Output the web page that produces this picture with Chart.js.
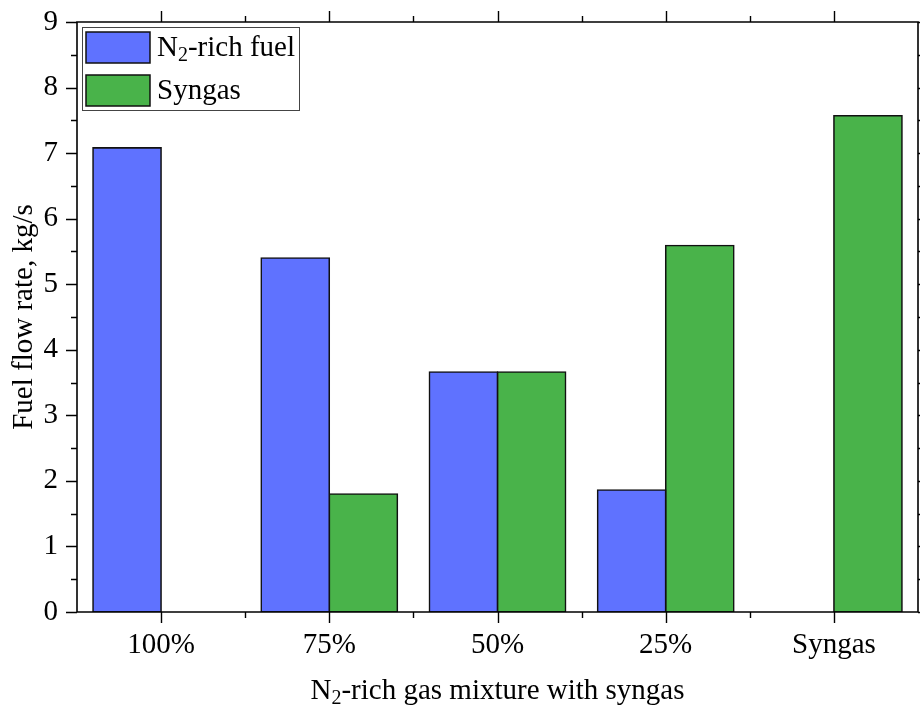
<!DOCTYPE html>
<html><head><meta charset="utf-8">
<script src="https://cdn.jsdelivr.net/npm/chart.js@4"></script>
<style>html,body{margin:0;padding:0;background:#fff;}</style>
</head><body>
<canvas id="c" width="920" height="711"></canvas>
<script>
const categories = ['100%', '75%', '50%', '25%', 'Syngas'];
const n2RichFuel = [7.08, 5.40, 3.66, 1.86, null];
const syngasFuel = [null, 1.80, 3.66, 5.59, 7.57];
const seriesLabels = ['N2-rich fuel', 'Syngas'];
const yMin = 0, yMax = 9, yStep = 1;

const FONT = "'Liberation Serif', 'Times New Roman', serif";
const FS = 29;
const BLUE = '#5F72FF';
const GREEN = '#49B34A';

function drawRich(ctx, parts, x, y, size, align) {
  const subSize = Math.round(size * 0.68);
  let w = 0;
  parts.forEach(p => {
    ctx.font = (p.sub ? subSize : size) + 'px ' + FONT;
    p.w = ctx.measureText(p.t).width;
    w += p.w;
  });
  let cx = align === 'center' ? x - w / 2 : x;
  ctx.textAlign = 'left';
  ctx.textBaseline = 'middle';
  parts.forEach(p => {
    ctx.font = (p.sub ? subSize : size) + 'px ' + FONT;
    ctx.fillText(p.t, cx, p.sub ? y + size * 0.28 : y);
    cx += p.w;
  });
}
function richParts(label) {
  if (label.startsWith('N2')) return [{t: 'N'}, {t: '2', sub: true}, {t: label.slice(2)}];
  return [{t: label}];
}

const framePlugin = {
  id: 'frame',
  afterDatasetsDraw(chart) {
    const ctx = chart.ctx;
    const a = chart.chartArea;
    const xs = chart.scales.x, ys = chart.scales.y;
    ctx.save();
    ctx.strokeStyle = '#000';
    ctx.lineWidth = 1.6;
    ctx.beginPath();
    ctx.rect(a.left, a.top, a.right - a.left, a.bottom - a.top);
    ctx.stroke();
    ctx.lineWidth = 1.4;
    ctx.beginPath();
    for (let v = yMin; v <= yMax + 1e-9; v += yStep / 2) {
      const py = Math.round(ys.getPixelForValue(v)) + 0.5;
      const major = Math.abs(v - Math.round(v)) < 1e-9;
      const len = major ? 11 : 6;
      ctx.moveTo(a.left, py); ctx.lineTo(a.left - len, py);
      ctx.moveTo(a.right, py); ctx.lineTo(a.right + len, py);
    }
    const n = categories.length;
    for (let i = 0; i < n; i++) {
      const px = Math.round(xs.getPixelForValue(i)) + 0.5;
      ctx.moveTo(px, a.bottom); ctx.lineTo(px, a.bottom + 11);
      ctx.moveTo(px, a.top); ctx.lineTo(px, a.top - 11);
      if (i < n - 1) {
        const bx = Math.round(xs.getPixelForValue(i + 0.5)) + 0.5;
        ctx.moveTo(bx, a.bottom); ctx.lineTo(bx, a.bottom + 6);
        ctx.moveTo(bx, a.top); ctx.lineTo(bx, a.top - 6);
      }
    }
    ctx.stroke();

    // legend
    const lx = a.left + 5, ly = a.top + 5;
    ctx.lineWidth = 1;
    ctx.strokeStyle = '#444';
    ctx.fillStyle = '#fff';
    ctx.fillRect(lx, ly, 217, 83);
    ctx.strokeRect(lx + 0.5, ly + 0.5, 217, 83);
    chart.data.datasets.forEach((ds, i) => {
      const sy = ly + 5 + i * 43;
      ctx.fillStyle = ds.backgroundColor;
      ctx.fillRect(lx + 4, sy, 64, 31);
      ctx.strokeStyle = '#111';
      ctx.lineWidth = 1.5;
      ctx.strokeRect(lx + 4, sy, 64, 31);
      ctx.fillStyle = '#000';
      drawRich(ctx, richParts(ds.label), lx + 75, sy + 16, FS, 'left');
    });

    // axis titles
    ctx.fillStyle = '#000';
    drawRich(ctx, richParts('N2-rich gas mixture with syngas'), (a.left + a.right) / 2, 691, FS, 'center');
    ctx.save();
    ctx.translate(24, (a.top + a.bottom) / 2);
    ctx.rotate(-Math.PI / 2);
    drawRich(ctx, [{t: 'Fuel flow rate, kg/s'}], 0, 0, FS, 'center');
    ctx.restore();
    ctx.restore();
  }
};

new Chart(document.getElementById('c'), {
  type: 'bar',
  data: {
    labels: categories,
    datasets: [
      { label: seriesLabels[0], data: n2RichFuel, backgroundColor: BLUE, borderColor: '#111', borderWidth: 1.6, borderSkipped: false, inflateAmount: 0.8 },
      { label: seriesLabels[1], data: syngasFuel, backgroundColor: GREEN, borderColor: '#111', borderWidth: 1.6, borderSkipped: false, inflateAmount: 0.8 }
    ]
  },
  options: {
    responsive: false,
    devicePixelRatio: 1,
    animation: false,
    layout: { padding: { top: 22, right: 2, left: 0, bottom: 0 } },
    datasets: { bar: { barPercentage: 1.0, categoryPercentage: 0.81 } },
    plugins: { legend: { display: false }, tooltip: { enabled: false }, title: { display: false } },
    scales: {
      x: {
        offset: true,
        grid: { display: false, drawTicks: false },
        border: { display: false },
        ticks: { color: '#000', font: { family: FONT, size: FS }, padding: 16, maxRotation: 0 },
        afterFit(s) { s.height = 99; s.paddingLeft = 0; s.paddingRight = 0; s.paddingTop = 0; s.paddingBottom = 0; }
      },
      y: {
        min: yMin, max: yMax,
        grid: { display: false, drawTicks: false },
        border: { display: false },
        ticks: { stepSize: yStep, color: '#000', font: { family: FONT, size: FS }, padding: 19 },
        afterFit(s) { s.width = 77; s.paddingTop = 0; s.paddingBottom = 0; s.paddingLeft = 0; s.paddingRight = 0; }
      }
    }
  },
  plugins: [framePlugin]
});
</script>
</body></html>
